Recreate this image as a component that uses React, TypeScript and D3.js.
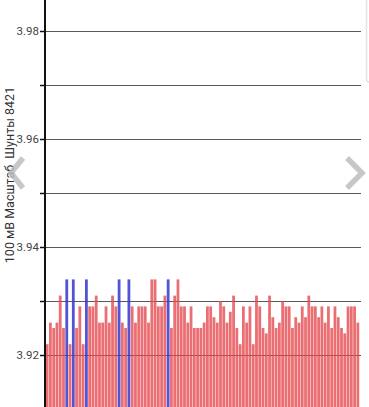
import React from "react";
import * as d3 from "d3";

const W = 369;
const H = 407;

const values: number[] = [
  3.922, 3.926, 3.925, 3.926, 3.931, 3.925, 3.934, 3.922, 3.934, 3.925,
  3.929, 3.922, 3.934, 3.929, 3.929, 3.931, 3.926, 3.926, 3.929, 3.926,
  3.931, 3.929, 3.934, 3.926, 3.925, 3.934, 3.929, 3.926, 3.929, 3.929,
  3.929, 3.926, 3.934, 3.934, 3.929, 3.929, 3.931, 3.934, 3.925, 3.931,
  3.934, 3.929, 3.929, 3.926, 3.929, 3.925, 3.925, 3.925, 3.926, 3.929,
  3.929, 3.927, 3.926, 3.930, 3.929, 3.926, 3.928, 3.931, 3.925, 3.922,
  3.929, 3.926, 3.929, 3.922, 3.931, 3.929, 3.925, 3.924, 3.931, 3.927,
  3.925, 3.926, 3.930, 3.929, 3.929, 3.925, 3.927, 3.926, 3.929, 3.927,
  3.931, 3.929, 3.929, 3.927, 3.929, 3.926, 3.929, 3.925, 3.929, 3.927,
  3.925, 3.924, 3.929, 3.929, 3.929, 3.926,
];
const blueIdx: number[] = [6, 8, 12, 22, 25, 37];
const tickValues: number[] = [3.92, 3.93, 3.94, 3.95, 3.96, 3.97, 3.98];
const labeledTicks: number[] = [3.92, 3.94, 3.96, 3.98];
const yTitle = "100 мВ Масштаб  Шунты 8421";

export default function App() {
  const x0 = 45.5;
  const x1 = 359.5;
  const gridEnd = 361;
  const y = d3.scaleLinear().domain([3.92, 3.98]).range([355, 31]);
  const x = d3
    .scaleBand<number>()
    .domain(values.map((_, i) => i))
    .range([x0, x1])
    .paddingInner(0.15)
    .paddingOuter(0.075);
  const fmt = d3.format(".2f");
  return (
    <svg
      width={W}
      height={H}
      style={{ position: "absolute", left: 0, top: 0, background: "#fff" }}
      fontFamily="Roboto, 'Noto Sans', sans-serif"
    >
      <path d="M366.5,0 V78 Q366.5,82 369,82" fill="none" stroke="#e2e2e2" strokeWidth={1.5} />
      {tickValues.map((t) => (
        <line key={"g" + t} x1={x0} x2={gridEnd} y1={Math.round(y(t)) + 0.5} y2={Math.round(y(t)) + 0.5} stroke="#5a5a5a" strokeWidth={1} />
      ))}
      {values.map((v, i) => {
        const isBlue = blueIdx.includes(i);
        return (
          <rect
            key={i}
            x={x(i)!}
            width={x.bandwidth()}
            y={y(v)}
            height={H + 10 - y(v)}
            fill={isBlue ? "#3b3bd0" : "#e54a4f"}
            fillOpacity={isBlue ? 0.88 : 0.8}
          />
        );
      })}
      <line x1={45} x2={45} y1={0} y2={H} stroke="#111" strokeWidth={2} />
      {tickValues.map((t) => (
        <line key={"t" + t} x1={40} x2={45} y1={Math.round(y(t)) + 0.5} y2={Math.round(y(t)) + 0.5} stroke="#111" strokeWidth={1.5} />
      ))}
      {labeledTicks.map((t) => (
        <text key={"l" + t} x={39} y={y(t)} dy="0.35em" textAnchor="end" fontSize={11.5} fill="#444">
          {fmt(t)}
        </text>
      ))}
      <text
        transform={`translate(14,175) rotate(-90)`}
        textAnchor="middle"
        fontSize={12.5}
        fill="#333"
        style={{ whiteSpace: "pre" }}
      >
        {yTitle}
      </text>
      <path d="M23,158 L11,173 L23,188" fill="none" stroke="#bdbdbd" strokeWidth={5.5} opacity={0.85} />
      <path d="M347,158 L362,173 L347,188" fill="none" stroke="#bdbdbd" strokeWidth={5.5} opacity={0.85} />
    </svg>
  );
}
